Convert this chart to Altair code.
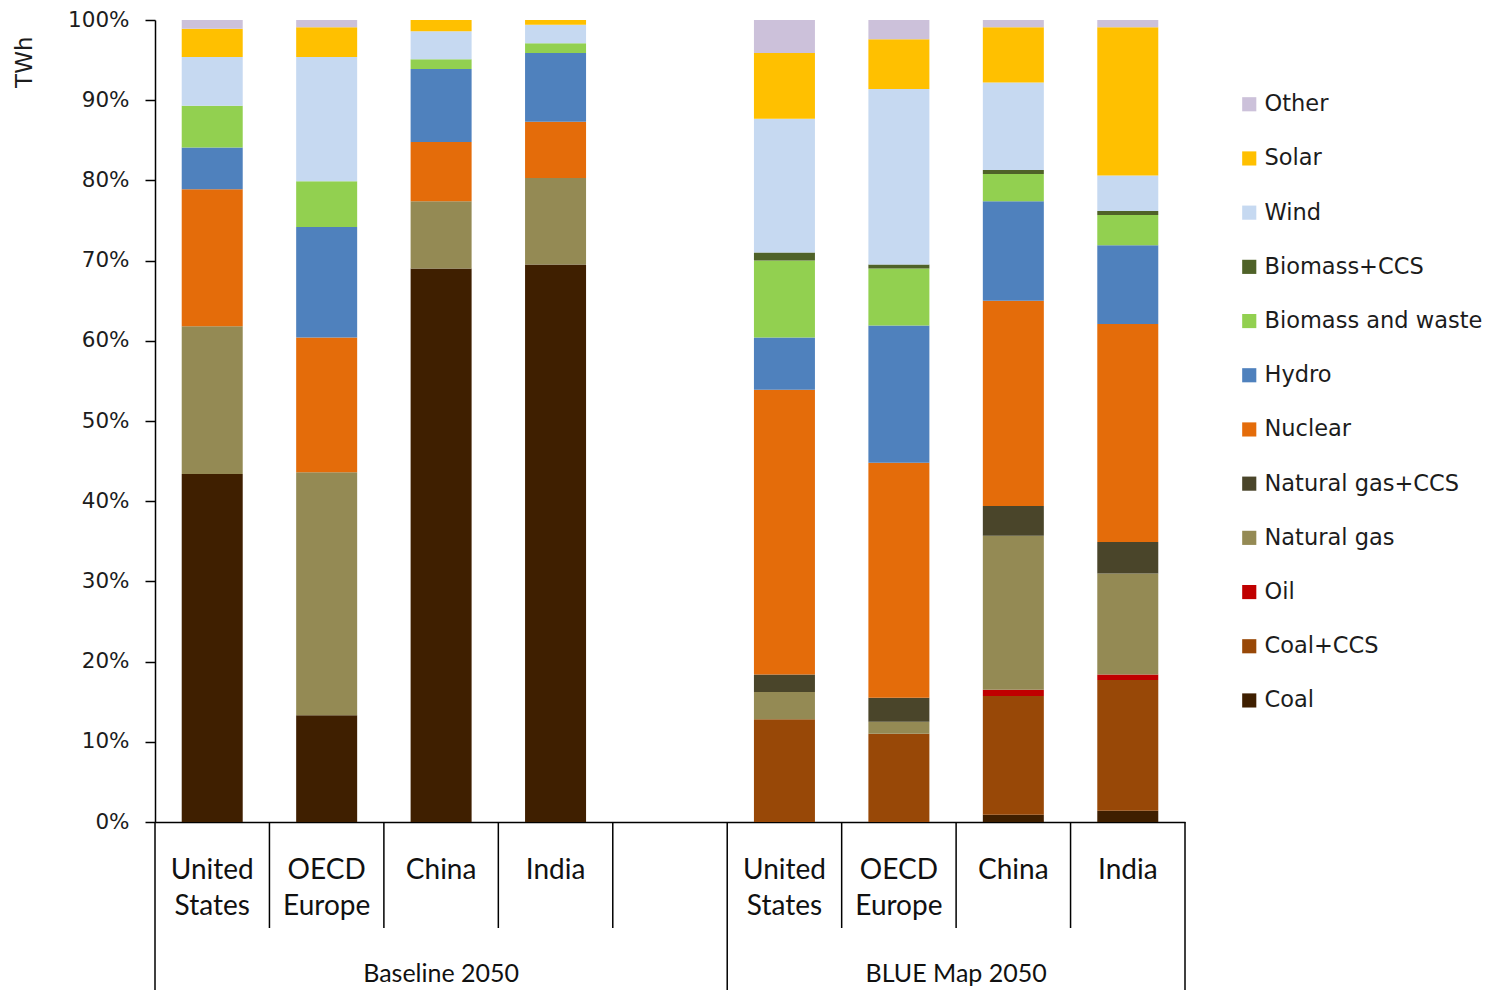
import altair as alt
import pandas as pd

# ---- data (percent shares of electricity generation) ----
sources = ["Coal", "Coal+CCS", "Oil", "Natural gas", "Natural gas+CCS", "Nuclear",
           "Hydro", "Biomass and waste", "Biomass+CCS", "Wind", "Solar", "Other"]
colors = ["#3F1F00", "#984807", "#C00000", "#948A54", "#4A452A", "#E46C0A",
          "#4F81BD", "#92D050", "#4F6228", "#C6D9F1", "#FFC000", "#CCC1DA"]

countries = ["United States", "OECD Europe", "China", "India"]
country_labels = ["United\nStates", "OECD\nEurope", "China", "India"]
scenarios = ["Baseline 2050", "BLUE Map 2050"]

baseline_us = [43.4, 0, 0, 18.4, 0, 17.1, 5.2, 5.2, 0, 6.1, 3.5, 1.1]
baseline_eu = [13.3, 0, 0, 30.3, 0, 16.8, 13.8, 5.7, 0, 15.5, 3.7, 0.9]
baseline_cn = [69.0, 0, 0, 8.4, 0, 7.4, 9.1, 1.2, 0, 3.5, 1.4, 0]
baseline_in = [69.5, 0, 0, 10.8, 0, 7.0, 8.6, 1.2, 0, 2.3, 0.6, 0]
blue_us = [0, 12.8, 0, 3.4, 2.2, 35.5, 6.5, 9.6, 1.0, 16.7, 8.2, 4.1]
blue_eu = [0, 11.0, 0, 1.5, 3.0, 29.3, 17.1, 7.1, 0.5, 21.9, 6.2, 2.4]
blue_cn = [0.9, 14.8, 0.8, 19.2, 3.7, 25.6, 12.4, 3.4, 0.5, 10.9, 6.9, 0.9]
blue_in = [1.4, 16.3, 0.7, 12.6, 3.9, 27.2, 9.8, 3.8, 0.5, 4.4, 18.5, 0.9]

series = {
    ("Baseline 2050", "United States"): baseline_us,
    ("Baseline 2050", "OECD Europe"): baseline_eu,
    ("Baseline 2050", "China"): baseline_cn,
    ("Baseline 2050", "India"): baseline_in,
    ("BLUE Map 2050", "United States"): blue_us,
    ("BLUE Map 2050", "OECD Europe"): blue_eu,
    ("BLUE Map 2050", "China"): blue_cn,
    ("BLUE Map 2050", "India"): blue_in,
}

# slot index: 4 baseline bars, one empty slot, 4 BLUE Map bars
def slot_of(scen, ctry):
    return countries.index(ctry) + (0 if scen == scenarios[0] else 5)

rows = []
for (scen, ctry), vals in series.items():
    for k, (s, v) in enumerate(zip(sources, vals)):
        if v > 0:
            rows.append({"pos": slot_of(scen, ctry) + 0.5, "source": s,
                         "value": v, "order": k, "scenario": scen, "country": ctry})
df = pd.DataFrame(rows)

n_slots = 9
bounds = pd.DataFrame({"pos": list(range(n_slots + 1))})
long_b = bounds[bounds["pos"].isin([0, 5, 9])]
short_b = bounds[~bounds["pos"].isin([0, 5, 9])]

labels_df = pd.DataFrame([
    {"pos": slot_of(s, c) + 0.5, "label": lab}
    for s in scenarios for c, lab in zip(countries, country_labels)
])
groups_df = pd.DataFrame({"pos": [2.5, 7.0], "label": scenarios})

legend_order = list(reversed(sources))
legend_colors = list(reversed(colors))

FONT = "DejaVu Sans"
CAT_FONT = "Lato"

H = 802
xscale = alt.Scale(domain=[0, n_slots], nice=False, zero=False, padding=0)
xaxis = alt.Axis(labels=False, ticks=False, grid=False, title=None,
                 domainColor="black", domainWidth=1.5)
x_enc = alt.X("pos:Q", scale=xscale, axis=xaxis)

bars = alt.Chart(df).mark_bar(size=61).encode(
    x=x_enc,
    y=alt.Y("value:Q", stack="zero",
            scale=alt.Scale(domain=[0, 100], nice=False),
            axis=alt.Axis(values=list(range(0, 101, 10)),
                          labelExpr="datum.value + '%'",
                          grid=False, domainColor="black", domainWidth=1.5,
                          tickColor="black", tickWidth=1.5, tickSize=10,
                          labelPadding=16, labelFont=FONT, labelFontSize=21.5,
                          labelColor="#1c1c1c",
                          title="TWh", titleFont=FONT, titleFontSize=23,
                          titleFontWeight="normal", titleColor="#1c1c1c",
                          titleAngle=270, titleX=-131, titleY=16,
                          titleAlign="right", titleBaseline="middle")),
    color=alt.Color("source:N",
                    scale=alt.Scale(domain=legend_order, range=legend_colors),
                    legend=alt.Legend(title=None, orient="none",
                                      legendX=1083, legendY=73,
                                      symbolType="square", symbolSize=200,
                                      symbolStrokeWidth=0,
                                      labelFont=FONT, labelFontSize=22.5,
                                      labelColor="#1c1c1c", labelOffset=4,
                                      rowPadding=31.2, padding=0,
                                      labelLimit=400)),
    order=alt.Order("order:Q", sort="ascending"),
)

short_rules = alt.Chart(short_b).mark_rule(color="black", strokeWidth=1.5).encode(
    x=x_enc, y=alt.value(H), y2=alt.value(H + 106))
long_rules = alt.Chart(long_b).mark_rule(color="black", strokeWidth=1.5).encode(
    x=x_enc, y=alt.value(H), y2=alt.value(H + 168))

cat_text = alt.Chart(labels_df).mark_text(
    lineBreak="\n", baseline="top", align="center", font=CAT_FONT,
    fontSize=28, lineHeight=36, color="#111").encode(
    x=x_enc, y=alt.value(H + 35), text="label:N")

group_text = alt.Chart(groups_df).mark_text(
    baseline="middle", align="center", font=CAT_FONT, fontSize=25,
    color="#111").encode(
    x=x_enc, y=alt.value(H + 152), text="label:N")

chart = alt.layer(bars, short_rules, long_rules, cat_text, group_text).properties(
    width=1030, height=H,
    padding={"left": 147, "top": 12, "right": 304, "bottom": 168},
    autosize=alt.AutoSizeParams(type="none"),
).configure(background="white", view=alt.ViewConfig(stroke=None))

chart.save("out.html", embed_options={"renderer": "svg", "actions": False})
